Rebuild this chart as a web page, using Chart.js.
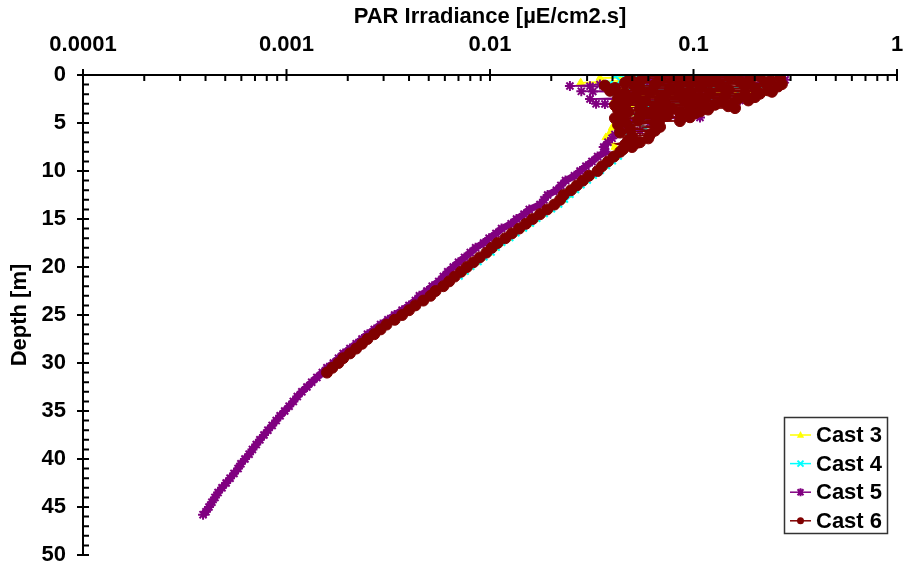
<!DOCTYPE html>
<html><head><meta charset="utf-8">
<script src="https://cdn.jsdelivr.net/npm/chart.js@4.4.0/dist/chart.umd.min.js"></script>
<style>html,body{margin:0;padding:0;background:#fff}#wrap{width:904px;height:567px}</style>
</head><body><div id="wrap"><canvas id="c" width="904" height="567"></canvas></div>
<script>
// ---------- data ----------
const xTitle = 'PAR Irradiance [µE/cm2.s]';
const yTitle = 'Depth [m]';
const xTickValues = [0.0001, 0.001, 0.01, 0.1, 1];
const xTickLabels = ['0.0001', '0.001', '0.01', '0.1', '1'];
const yTickValues = [0, 5, 10, 15, 20, 25, 30, 35, 40, 45, 50];
const yTickLabels = ['0', '5', '10', '15', '20', '25', '30', '35', '40', '45', '50'];
const seriesNames = ['Cast 3', 'Cast 4', 'Cast 5', 'Cast 6'];

const cast3Depth = [0.1,0.3,0.4,0.6,0.8,0.9,1.1,1.3,1.5,1.7,
  1.9,2.1,2.3,2.5,2.8,3.1,3.4,3.7,4.0,4.4,
  4.7,5.0,5.5,6.0,6.5,7.0,7.5,8.0,8.5,9.0,
  9.5,10.0,10.5,11.0,11.5,12.0,12.5,13.0,13.5,14.0,
  14.5,15.0,15.5,16.0,16.5,17.0,17.5,18.0,18.5,19.0,
  19.5,20.0,20.5];
const cast3Par = [0.0611,0.0347,0.151,0.0436,0.0279,0.096,0.0389,0.190,0.0451,0.0858,
  0.220,0.0546,0.108,0.0411,0.160,0.0488,0.096,0.0461,0.0685,0.0436,
  0.0421,0.0546,0.0398,0.0389,0.0371,0.0389,0.0411,0.0416,0.0420,0.0393,
  0.0367,0.0344,0.0317,0.0296,0.0276,0.0259,0.0243,0.0229,0.0214,0.0198,
  0.0182,0.0168,0.0155,0.0144,0.0132,0.0123,0.0113,0.0106,0.0099,0.0092,
  0.0086,0.0080,0.0075];

const cast4Depth = [0.1,0.2,0.3,0.4,0.5,0.6,0.7,0.8,0.9,1.0,
  1.2,1.3,1.5,1.7,1.9,2.1,2.3,2.5,2.7,3.0,
  3.3,3.6,4.0,4.5,5.0,5.5,6.0,6.5,7.0,7.5,
  8.0,8.5,9.0,9.5,10.0,10.5,11.0,11.5,12.0,12.5,
  13.0,13.5,14.0,14.5,15.0,15.5,16.0,16.5,17.0,17.5,
  18.0,18.5,19.0,19.5,20.0,20.5,21.0];
const cast4Par = [0.0411,0.212,0.0546,0.266,0.096,0.0436,0.179,0.0685,0.0389,0.135,
  0.0546,0.225,0.0461,0.108,0.0411,0.169,0.0685,0.135,0.0488,0.108,
  0.0546,0.096,0.0461,0.0685,0.0488,0.0578,0.0461,0.0488,0.0477,0.0457,
  0.0436,0.0430,0.0402,0.0376,0.0351,0.0324,0.0303,0.0282,0.0265,0.0249,
  0.0234,0.0219,0.0202,0.0186,0.0171,0.0159,0.0147,0.0135,0.0126,0.0115,
  0.0108,0.0102,0.0094,0.0088,0.0081,0.0076,0.0071];

const cast5Depth = [0.1,0.2,0.3,0.4,0.5,0.6,0.7,0.8,0.9,1.0,
  1.15,1.16,1.4,1.5,1.7,1.72,1.9,2.0,2.2,2.4,
  2.5,2.65,2.9,3.0,3.02,3.3,3.6,3.9,4.2,4.4,
  4.42,4.7,5.0,5.4,5.8,6.2,6.6,7.0,7.5,8.0,
  8.5,9.0,9.5,10.0,10.5,11.0,11.5,12.0,12.5,13.0,
  13.5,14.0,14.5,15.0,15.5,16.0,16.5,17.0,17.5,18.0,
  18.5,19.0,19.5,20.0,20.5,21.0,21.5,22.0,22.5,23.0,
  23.5,24.0,24.5,25.0,25.5,26.0,26.5,27.0,27.5,28.0,
  28.5,29.0,29.5,30.0,30.5,31.0,31.5,32.0,32.5,33.0,
  33.5,34.0,34.5,35.0,35.5,36.0,36.5,37.0,37.5,38.0,
  38.5,39.0,39.5,40.0,40.5,41.0,41.5,42.0,42.5,43.0,
  43.5,44.0,44.5,45.0,45.5,45.8];
const cast5Par = [0.096,0.169,0.0578,0.135,0.282,0.108,0.0611,0.212,0.0488,0.0347,
  0.0247,0.0310,0.0858,0.151,0.0281,0.0320,0.108,0.0611,0.201,0.0436,
  0.0310,0.169,0.0546,0.0332,0.0367,0.118,0.0546,0.0436,0.0685,0.0908,
  0.1076,0.0488,0.0611,0.045,0.0546,0.0411,0.0398,0.0380,0.0362,0.0370,
  0.0338,0.0317,0.0296,0.0277,0.0260,0.0235,0.0223,0.0212,0.0192,0.0184,
  0.0176,0.0156,0.0147,0.0135,0.0127,0.0114,0.0107,0.0099,0.0093,0.0085,
  0.0080,0.0075,0.0070,0.0066,0.0062,0.0059,0.0056,0.0052,0.0049,0.0045,
  0.0043,0.0040,0.0037,0.0034,0.00315,0.0029,0.0027,0.0025,0.00235,0.0022,
  0.00205,0.0019,0.0018,0.0017,0.00158,0.0015,0.00141,0.00133,0.00126,0.00119,
  0.00113,0.00108,0.00103,0.00098,0.00093,0.00089,0.00085,0.00081,0.000775,0.00074,
  0.00071,0.00068,0.000655,0.000625,0.000597,0.000578,0.000552,0.000528,0.000505,0.000482,
  0.000461,0.000445,0.00043,0.000416,0.000402,0.000389];

const cast6Depth = [0.05,0.10,0.15,0.20,0.25,0.30,0.35,0.40,0.45,0.50,
  0.55,0.60,0.65,0.70,0.75,0.80,0.85,0.90,0.95,1.00,
  1.05,1.10,1.15,1.20,1.25,1.30,1.35,1.40,1.45,1.50,
  1.55,1.60,1.65,1.70,1.75,1.80,1.85,1.90,1.95,2.00,
  2.05,2.10,2.15,2.20,2.25,2.30,2.35,2.40,2.45,2.50,
  2.55,2.60,2.65,2.70,2.75,2.80,2.85,2.90,2.95,3.00,
  3.05,3.10,3.15,3.20,3.25,3.30,3.35,3.40,3.45,3.50,
  3.55,3.60,3.65,3.70,3.75,3.80,3.85,3.90,3.95,4.00,
  4.10,4.20,4.30,4.40,4.50,4.60,4.70,4.80,4.90,5.00,
  5.20,5.40,5.60,5.80,6.00,6.20,6.40,6.60,6.80,7.00,
  7.25,7.50,7.75,8.0,8.5,9.0,9.5,10.0,10.5,11.0,
  11.5,12.0,12.5,13.0,13.5,14.0,14.5,15.0,15.5,16.0,
  16.5,17.0,17.5,18.0,18.5,19.0,19.5,20.0,20.5,21.0,
  21.5,22.0,22.5,23.0,23.5,24.0,24.5,25.0,25.5,26.0,
  26.5,27.0,27.5,28.0,28.5,29.0,29.5,30.0,30.5,31.0];
const cast6Par = [0.108,0.212,0.0578,0.151,0.0811,0.266,0.0488,0.1275,0.190,0.0685,
  0.0961,0.238,0.0546,0.169,0.114,0.0461,0.225,0.0858,0.272,0.0647,
  0.135,0.0367,0.179,0.260,0.0516,0.108,0.0411,0.2006,0.0767,0.148,
  0.0546,0.232,0.0389,0.0961,0.243,0.0611,0.1205,0.0461,0.212,0.0858,
  0.0436,0.179,0.0724,0.1428,0.0516,0.2006,0.1017,0.0426,0.166,0.0685,
  0.114,0.0488,0.186,0.0908,0.0578,0.138,0.0436,0.108,0.0724,0.155,
  0.0546,0.1275,0.0411,0.0961,0.148,0.0647,0.114,0.0461,0.160,0.0785,
  0.0546,0.118,0.0426,0.0961,0.067,0.108,0.0477,0.0858,0.060,0.1017,
  0.0436,0.0747,0.0546,0.0961,0.0411,0.0685,0.0535,0.0858,0.0461,0.0647,
  0.0426,0.0685,0.0488,0.0647,0.0436,0.0611,0.0499,0.060,0.0477,0.0546,
  0.0461,0.0499,0.045,0.0436,0.0406,0.0380,0.0355,0.0338,0.0306,0.0286,
  0.0267,0.0250,0.0230,0.0221,0.0207,0.0191,0.0176,0.0162,0.0150,0.0139,
  0.0128,0.0119,0.0109,0.0102,0.0096,0.0089,0.0083,0.0077,0.0072,0.0067,
  0.0063,0.0059,0.0054,0.0051,0.0047,0.0043,0.0040,0.0037,0.0034,0.0031,
  0.0029,0.0027,0.0025,0.00235,0.0022,0.00205,0.0019,0.0018,0.00168,0.00158];

// ---------- styling ----------
const FONT = "'Liberation Sans', Arial, Helvetica, sans-serif";
const colors = ['#FFFF00', '#00FFFF', '#800080', '#800000'];
const styles = ['triangle', 'crossRot', 'star', 'circle'];
const depths = [cast3Depth, cast4Depth, cast5Depth, cast6Depth];
const pars = [cast3Par, cast4Par, cast5Par, cast6Par];
const radii = [4.5, 4, 5, 5.5];
const pbw = [1, 2, 2, 1];
const deepWidth = [4, 4, 7, 6];

function toPoints(d, p) { return d.map((v, i) => ({ x: p[i], y: v })); }

const datasets = seriesNames.map((name, k) => ({
  label: name,
  data: toPoints(depths[k], pars[k]),
  borderColor: colors[k],
  backgroundColor: colors[k],
  pointBackgroundColor: colors[k],
  pointBorderColor: colors[k],
  pointStyle: styles[k],
  pointRadius: radii[k],
  pointBorderWidth: pbw[k],
  borderWidth: 1.5,
  tension: 0,
  fill: false,
  order: 3 - k,
  segment: { borderWidth: c => (depths[k][c.p0DataIndex] >= 7 ? deepWidth[k] : 1.5) }
}));

function drawMarker(ctx, style, x, y, r, color) {
  ctx.save();
  ctx.fillStyle = color; ctx.strokeStyle = color; ctx.lineWidth = 2;
  ctx.beginPath();
  if (style === 'circle') { ctx.arc(x, y, r, 0, Math.PI * 2); ctx.fill(); }
  else if (style === 'triangle') {
    ctx.moveTo(x, y - r); ctx.lineTo(x + r * 0.9, y + r * 0.7); ctx.lineTo(x - r * 0.9, y + r * 0.7); ctx.closePath(); ctx.fill();
  } else if (style === 'crossRot') {
    const a = r * 0.75; ctx.moveTo(x - a, y - a); ctx.lineTo(x + a, y + a); ctx.moveTo(x + a, y - a); ctx.lineTo(x - a, y + a); ctx.stroke();
  } else {
    const a = r * 0.75; ctx.moveTo(x - a, y - a); ctx.lineTo(x + a, y + a); ctx.moveTo(x + a, y - a); ctx.lineTo(x - a, y + a);
    ctx.moveTo(x, y - r); ctx.lineTo(x, y + r); ctx.stroke();
    ctx.fillRect(x - 2.5, y - 2.5, 5, 5);
  }
  ctx.restore();
}

const axesPlugin = {
  id: 'axesTicks',
  afterDatasetsDraw(chart) {
    const { ctx, chartArea: a, scales: { x, y } } = chart;
    ctx.save();
    ctx.strokeStyle = '#000'; ctx.lineWidth = 2; ctx.lineCap = 'butt';
    ctx.beginPath();
    ctx.moveTo(a.left - 1, a.top); ctx.lineTo(a.right, a.top);
    ctx.moveTo(a.left, a.top); ctx.lineTo(a.left, a.bottom);
    xTickValues.forEach(v => { const px = x.getPixelForValue(v); ctx.moveTo(px, a.top - 6); ctx.lineTo(px, a.top + 6); });
    for (let i = 0; i < xTickValues.length - 1; i++) {
      for (let m = 2; m <= 9; m++) { const px = x.getPixelForValue(xTickValues[i] * m); ctx.moveTo(px, a.top); ctx.lineTo(px, a.top + 6); }
    }
    yTickValues.forEach(v => { const py = y.getPixelForValue(v); ctx.moveTo(a.left - 6, py); ctx.lineTo(a.left + 6, py); });
    for (let d = yTickValues[0]; d <= yTickValues[yTickValues.length - 1]; d++) {
      if (d % 5 === 0) continue;
      const py = y.getPixelForValue(d); ctx.moveTo(a.left, py); ctx.lineTo(a.left + 6, py);
    }
    ctx.stroke();
    ctx.restore();
  },
  afterDraw(chart) {
    const { ctx, chartArea: a } = chart;
    const w = 103, h = 116;
    const left = a.right - 10 - w, top = a.bottom - 22 - h;
    ctx.save();
    ctx.fillStyle = '#fff'; ctx.fillRect(left, top, w, h);
    ctx.strokeStyle = '#333'; ctx.lineWidth = 1.5; ctx.strokeRect(left + 0.5, top + 0.5, w, h);
    ctx.font = 'bold 22px ' + FONT; ctx.textBaseline = 'middle'; ctx.textAlign = 'left';
    chart.data.datasets.forEach((ds, i) => {
      const cy = top + 18 + i * 28.6;
      ctx.strokeStyle = ds.borderColor; ctx.lineWidth = 1.5;
      ctx.beginPath(); ctx.moveTo(left + 6, cy); ctx.lineTo(left + 27, cy); ctx.stroke();
      drawMarker(ctx, styles[i], left + 16.5, cy, i === 3 ? 3.5 : 4, ds.borderColor);
      ctx.fillStyle = '#000';
      ctx.fillText(ds.label, left + 32, cy + 1);
    });
    ctx.restore();
  }
};

function noPad(s) { s.paddingLeft = 0; s.paddingRight = 0; s.paddingTop = 0; s.paddingBottom = 0; }
const tickFont = { family: FONT, size: 22, weight: 'bold' };
new Chart(document.getElementById('c'), {
  type: 'line',
  data: { datasets },
  plugins: [axesPlugin],
  options: {
    responsive: false, animation: false, events: [],
    layout: { padding: { left: 0, right: 7, top: 0, bottom: 12 } },
    plugins: { legend: { display: false }, tooltip: { enabled: false } },
    scales: {
      x: {
        type: 'logarithmic', position: 'top', min: xTickValues[0], max: xTickValues[xTickValues.length - 1],
        grid: { display: false, drawTicks: false }, border: { display: false },
        afterBuildTicks: s => { s.ticks = xTickValues.map(v => ({ value: v })); },
        afterFit: s => { s.height = 75; noPad(s); },
        ticks: {
          autoSkip: false, maxRotation: 0, padding: 17, color: '#000', font: tickFont,
          callback: v => { const i = xTickValues.findIndex(t => Math.abs(Math.log10(t) - Math.log10(v)) < 1e-6); return i >= 0 ? xTickLabels[i] : ''; }
        },
        title: { display: true, text: xTitle, color: '#000', font: tickFont, padding: { top: 4, bottom: 0 } }
      },
      y: {
        type: 'linear', reverse: true, min: yTickValues[0], max: yTickValues[yTickValues.length - 1],
        grid: { display: false, drawTicks: false }, border: { display: false },
        afterBuildTicks: s => { s.ticks = yTickValues.map(v => ({ value: v })); },
        afterFit: s => { s.width = 83; noPad(s); },
        ticks: {
          autoSkip: false, padding: 17, color: '#000', font: tickFont,
          callback: v => { const i = yTickValues.indexOf(v); return i >= 0 ? yTickLabels[i] : ''; }
        },
        title: { display: true, text: yTitle, color: '#000', font: tickFont, padding: { top: 7, bottom: 0 } }
      }
    }
  }
});
</script>
</body></html>
